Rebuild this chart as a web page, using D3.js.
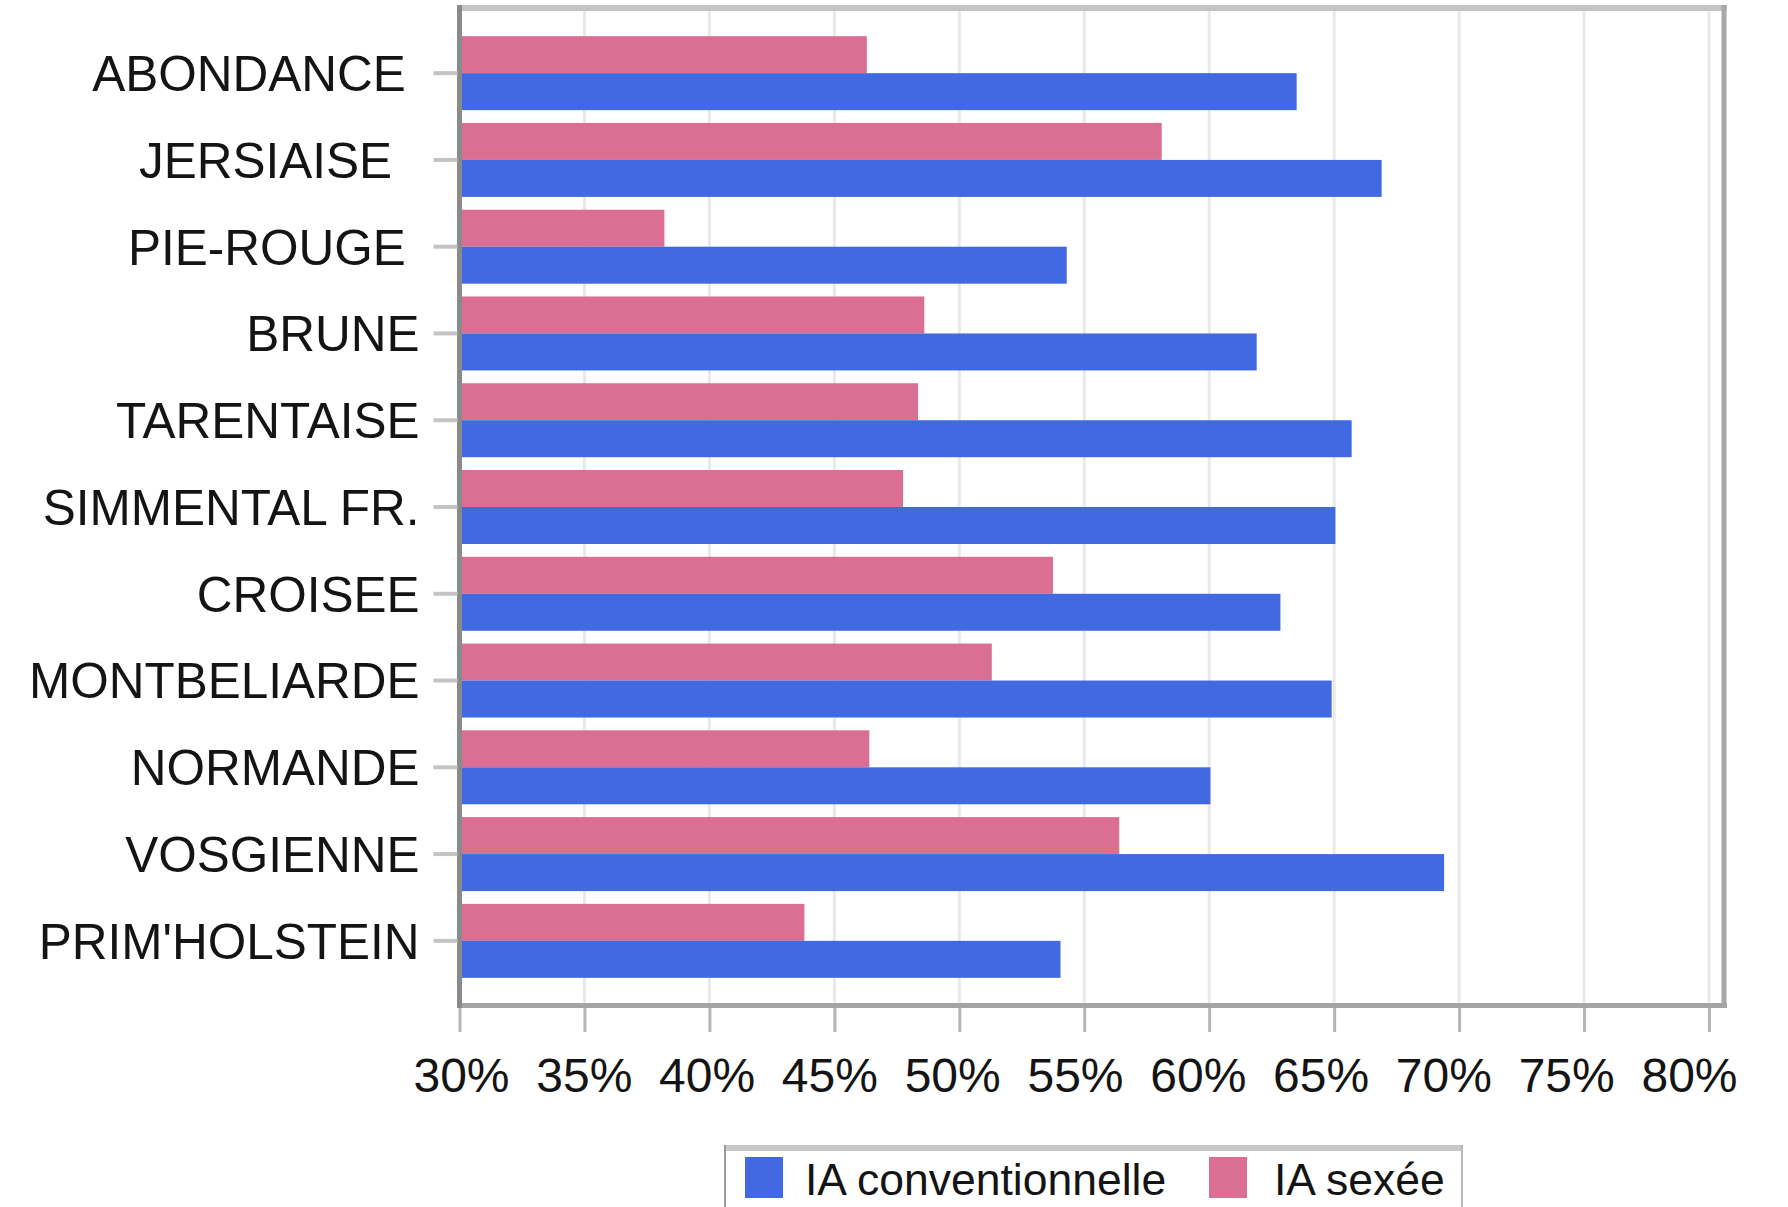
<!DOCTYPE html>
<html>
<head>
<meta charset="utf-8">
<script src="https://cdn.jsdelivr.net/npm/d3@7"></script>
<style>
  html, body { margin: 0; padding: 0; background: #fff; }
  svg { display: block; font-family: "Liberation Sans", Arial, sans-serif; }
  text { white-space: pre; }
</style>
</head>
<body>
<svg id="chart" width="1788" height="1207"></svg>
<script>
// ---- data ----
const categories = ["ABONDANCE ", "JERSIAISE  ", "PIE-ROUGE ", "BRUNE", "TARENTAISE", "SIMMENTAL FR.", "CROISEE", "MONTBELIARDE", "NORMANDE", "VOSGIENNE", "PRIM'HOLSTEIN"];
const conventionnelle = [63.5, 66.9, 54.3, 61.9, 65.7, 65.05, 62.85, 64.9, 60.05, 69.4, 54.05];
const sexee = [46.3, 58.1, 38.2, 48.6, 48.35, 47.75, 53.75, 51.3, 46.4, 56.4, 43.8];
const seriesNames = ["IA conventionnelle", "IA sexée"];
const seriesColors = ["#4169E1", "#DB6E93"];
const xTicks = [30, 35, 40, 45, 50, 55, 60, 65, 70, 75, 80];

// ---- layout ----
const svg = d3.select("#chart");
const plotLeft = 459.5, plotRight = 1724, plotTop = 11, plotBottom = 1003;

const x = d3.scaleLinear().domain([30, 80]).range([plotLeft, 1709]);
// tick labels are rendered slightly more tightly than the tick marks
const xLabel = d3.scaleLinear().domain([30, 80]).range([461, 1689]);
const y = d3.scaleBand().domain(categories).range([plotTop, plotBottom])
  .paddingInner(0.1475).paddingOuter(0.29);
const bw = y.bandwidth();

// gridlines
svg.append("g").selectAll("line").data(xTicks.slice(1)).join("line")
  .attr("x1", d => x(d)).attr("x2", d => x(d))
  .attr("y1", plotTop).attr("y2", plotBottom)
  .attr("stroke", "#e9e9e9").attr("stroke-width", 3);

// bars
const bars = svg.append("g");
bars.selectAll("rect.sex").data(categories).join("rect")
  .attr("class", "sex")
  .attr("x", x(30))
  .attr("y", d => y(d))
  .attr("width", (d, i) => x(sexee[i]) - x(30))
  .attr("height", bw / 2)
  .attr("fill", seriesColors[1]);
bars.selectAll("rect.conv").data(categories).join("rect")
  .attr("class", "conv")
  .attr("x", x(30))
  .attr("y", d => y(d) + bw / 2)
  .attr("width", (d, i) => x(conventionnelle[i]) - x(30))
  .attr("height", bw / 2)
  .attr("fill", seriesColors[0]);

// frame
svg.append("line").attr("x1", 457).attr("x2", 1727).attr("y1", 8).attr("y2", 8)
  .attr("stroke", "#c3c3c3").attr("stroke-width", 6);
svg.append("line").attr("x1", 1724).attr("x2", 1724).attr("y1", 5).attr("y2", 1008)
  .attr("stroke", "#a8a8a8").attr("stroke-width", 5);
svg.append("line").attr("x1", 457).attr("x2", 1727).attr("y1", 1005.5).attr("y2", 1005.5)
  .attr("stroke", "#a4a4a4").attr("stroke-width", 5);
svg.append("line").attr("x1", plotLeft).attr("x2", plotLeft).attr("y1", 5).attr("y2", 1008)
  .attr("stroke", "#8a8a8a").attr("stroke-width", 5);

// y axis
const yAxis = svg.append("g").attr("transform", "translate(457.5,0)")
  .call(d3.axisLeft(y).tickSize(24).tickPadding(14));
yAxis.select(".domain").remove();
yAxis.selectAll(".tick line").attr("stroke", "#c4c4c4").attr("stroke-width", 4);
yAxis.selectAll(".tick text")
  .attr("font-size", 49.5).attr("fill", "#141414")
  .attr("font-family", "'Liberation Sans', Arial, sans-serif")
  .attr("dy", "0.36em");

// x axis: tick marks
const xAxis = svg.append("g").attr("transform", "translate(0,1008)")
  .call(d3.axisBottom(x).tickValues(xTicks).tickFormat("").tickSize(24));
xAxis.select(".domain").remove();
xAxis.selectAll(".tick line").attr("stroke", "#b5b5b5").attr("stroke-width", 3);

// x axis: tick labels
const xAxisLabels = svg.append("g").attr("transform", "translate(0,1008)")
  .call(d3.axisBottom(xLabel).tickValues(xTicks).tickFormat(d => d + "%").tickSize(0).tickPadding(50));
xAxisLabels.select(".domain").remove();
xAxisLabels.selectAll(".tick line").remove();
xAxisLabels.selectAll(".tick text")
  .attr("font-size", 48).attr("fill", "#141414")
  .attr("font-family", "'Liberation Sans', Arial, sans-serif");

// legend
const lg = svg.append("g");
lg.append("rect").attr("x", 725).attr("y", 1148).attr("width", 737).attr("height", 70).attr("fill", "#fff");
lg.append("line").attr("x1", 724).attr("x2", 1463).attr("y1", 1148).attr("y2", 1148)
  .attr("stroke", "#c8c8c8").attr("stroke-width", 6);
lg.append("line").attr("x1", 725).attr("x2", 725).attr("y1", 1145).attr("y2", 1207)
  .attr("stroke", "#9a9a9a").attr("stroke-width", 2);
lg.append("line").attr("x1", 1462).attr("x2", 1462).attr("y1", 1145).attr("y2", 1207)
  .attr("stroke", "#b8b8b8").attr("stroke-width", 2);
const legendX = [745, 1209];
const legendTextX = [805, 1274];
seriesNames.forEach((name, i) => {
  lg.append("rect").attr("x", legendX[i]).attr("y", 1157).attr("width", 38).attr("height", 41)
    .attr("fill", seriesColors[i]);
  lg.append("text").attr("x", legendTextX[i]).attr("y", 1195)
    .attr("font-size", 44.5).attr("fill", "#141414")
    .text(name);
});
</script>
</body>
</html>
